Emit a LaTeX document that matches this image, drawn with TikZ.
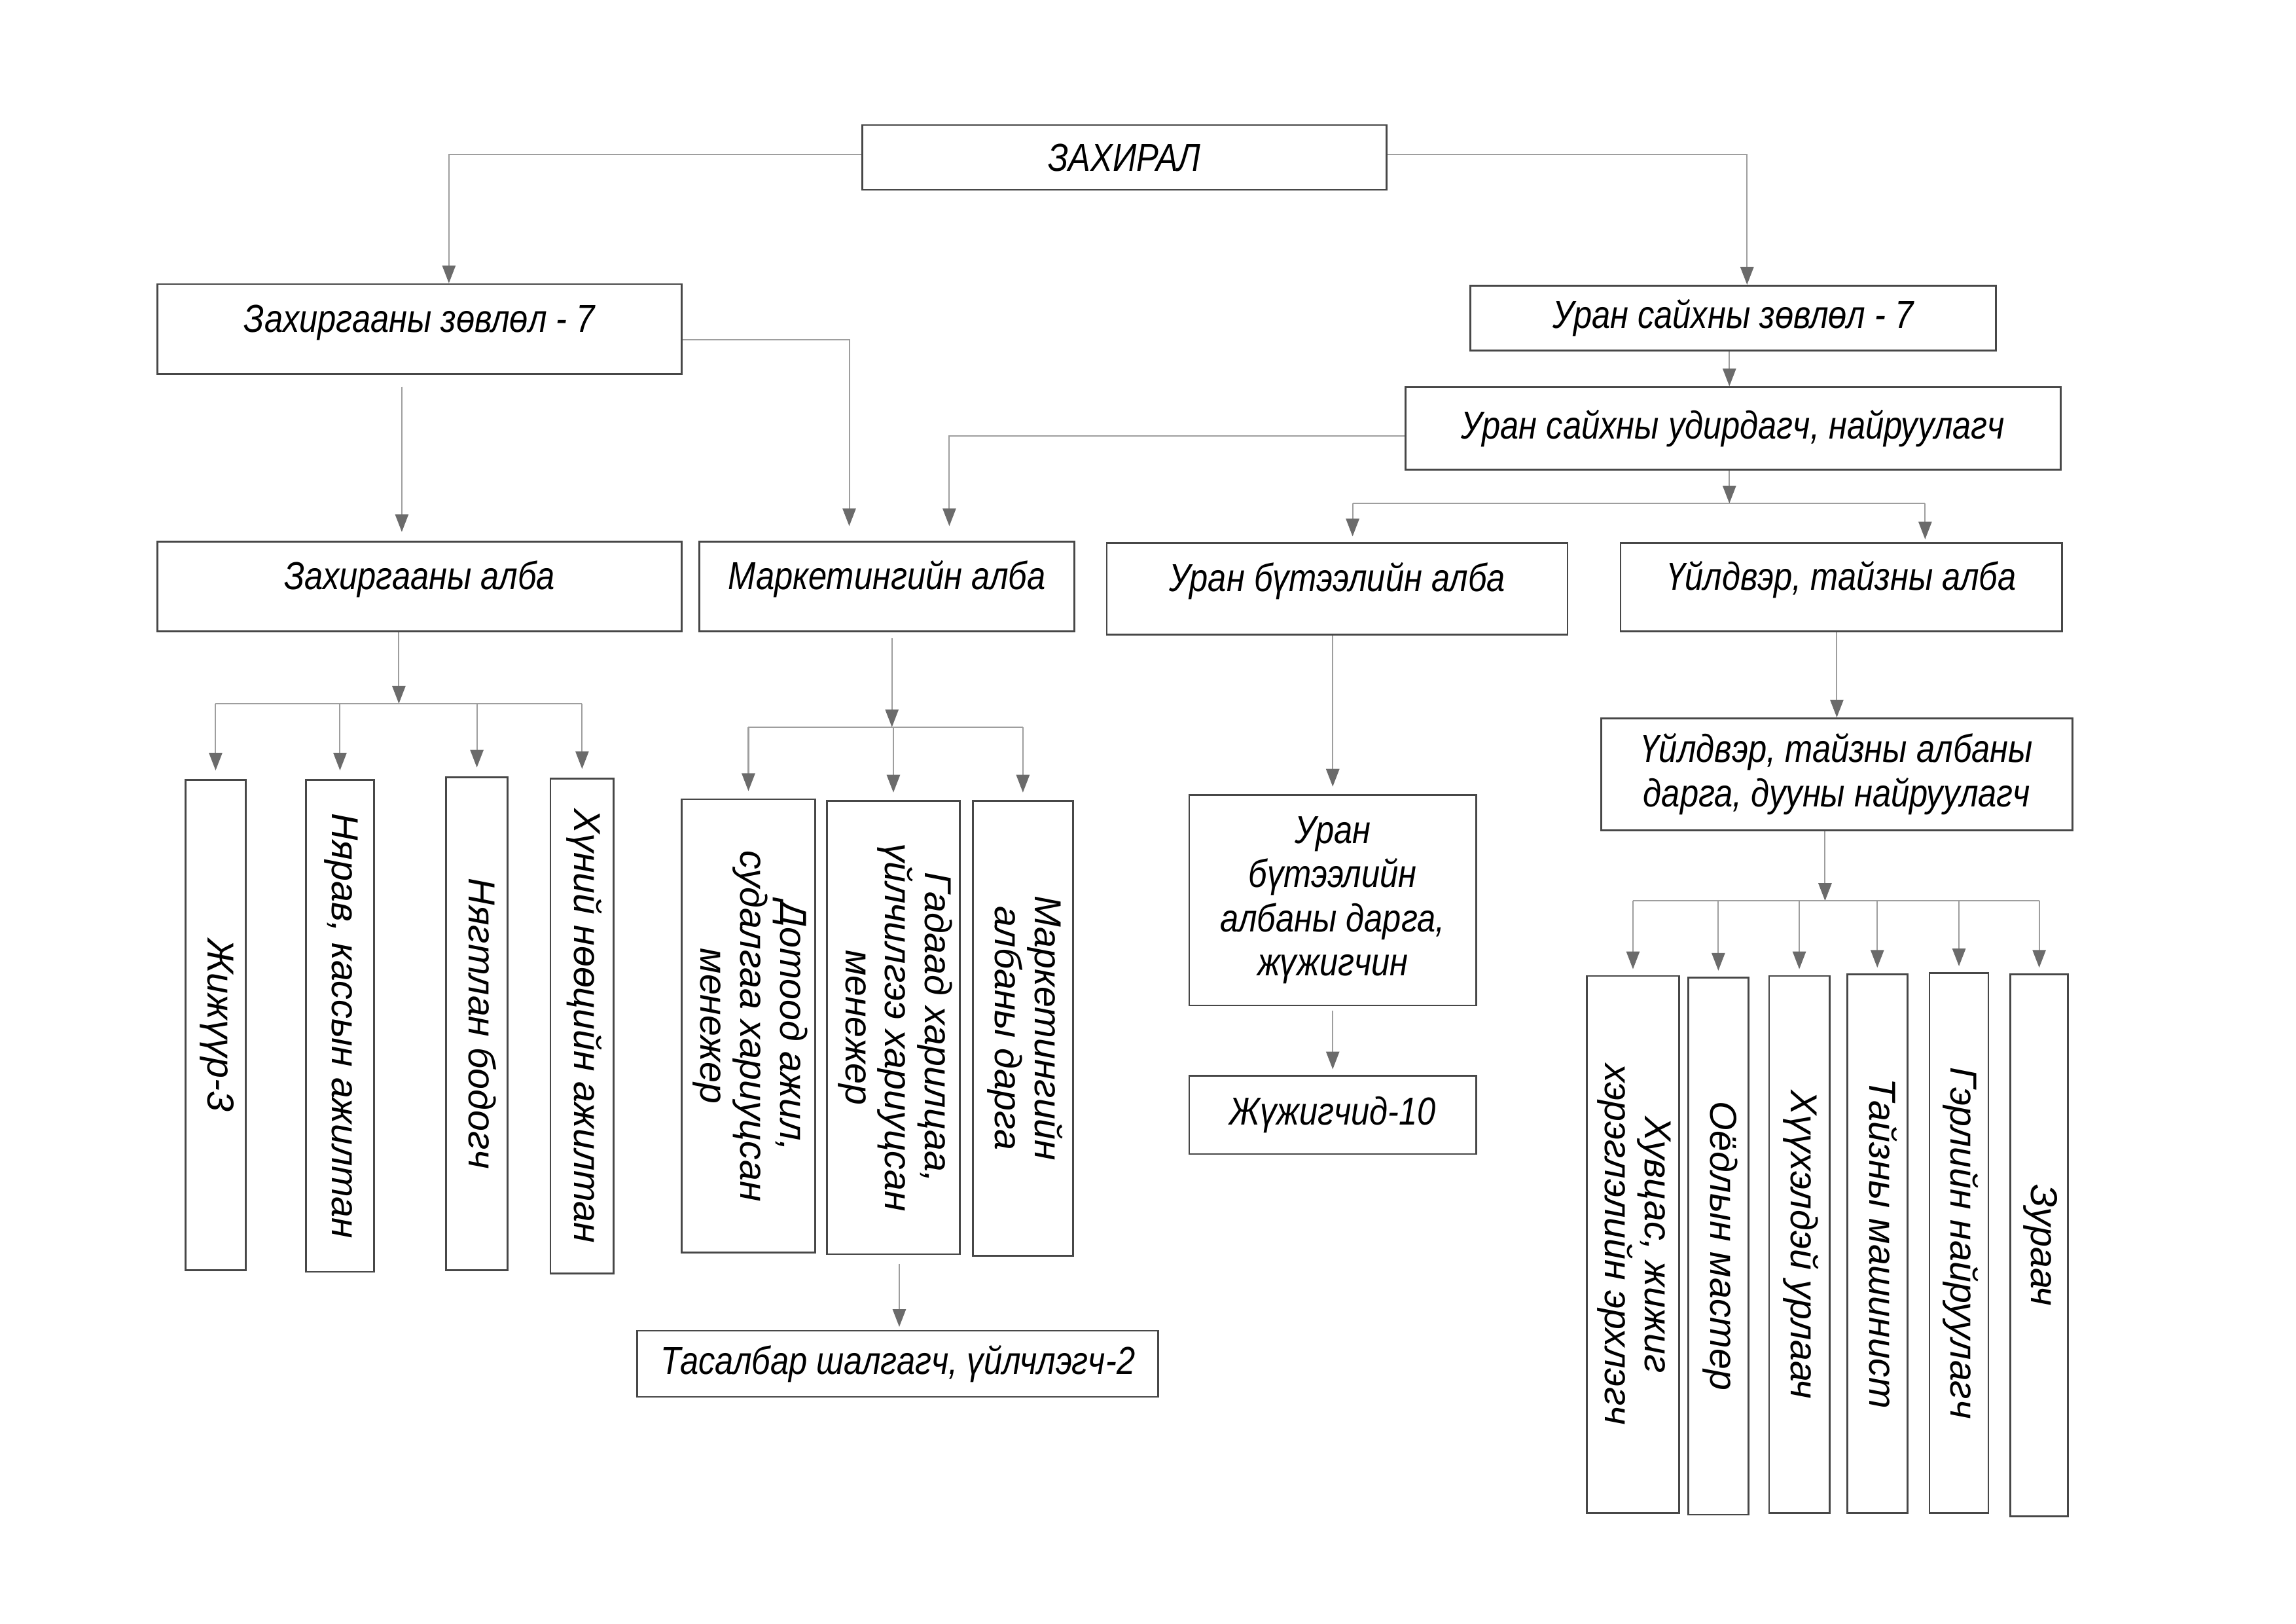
\documentclass[tikz,border=0pt]{standalone}
\usepackage{fontspec}
\usepackage{graphicx}
\setmainfont{Liberation Sans}
\newfontfamily\condit{Liberation Sans Italic}[FakeStretch=0.85]
\usetikzlibrary{arrows.meta}
\tikzset{
 box/.style={draw=black!72, line width=1.2pt, fill=white, inner sep=0pt, align=center, font=\condit\fontsize{26.5}{30}\selectfont},
 vbox/.style={draw=black!72, line width=1.2pt, fill=white, inner sep=0pt, font=\itshape\fontsize{25.5}{27}\selectfont},
 sz/.style 2 args={minimum width=#1pt, minimum height=#2pt},
 conn/.style={draw=black!38, line width=0.9pt},
 arr/.style={conn, -{Triangle[length=12pt,width=9pt,color=black!58]}},
 up/.style={text height=19pt, text depth=15pt},
}
\newcommand\vtext[1]{\rotatebox{-90}{\begin{tabular}{@{}c@{}}#1\end{tabular}}}
\begin{document}
\begin{tikzpicture}[x=1pt,y=-1pt]
\fill[white] (0,0) rectangle (1560,1102.9);
\useasboundingbox (0,0) rectangle (1560,1102.9);

% top levels
\node[box, sz={356}{44}] (dir) at (764,107) {ЗАХИРАЛ};
\node[box, sz={356}{61}, up] (zz) at (285,223.5) {Захиргааны зөвлөл - 7};
\node[box, sz={357}{44}] (uz) at (1177.5,216) {Уран сайхны зөвлөл - 7};
\node[box, sz={445}{56}] (ud) at (1177.5,291) {Уран сайхны удирдагч, найруулагч};

% departments
\node[box, sz={356}{61}, up] (za) at (285,398.5) {Захиргааны алба};
\node[box, sz={255}{61}, up] (ma) at (602.5,398.5) {Маркетингийн алба};
\node[box, sz={313}{62}, up] (ub) at (908.5,400) {Уран бүтээлийн алба};
\node[box, sz={300}{60}, up] (ua) at (1251,399) {Үйлдвэр, тайзны алба};

% administration staff
\node[vbox, sz={41}{333}] (v1) at (146.5,696.5) {\vtext{Жижүүр-3}};
\node[vbox, sz={46}{334}] (v2) at (231,697) {\vtext{Нярав, кассын ажилтан}};
\node[vbox, sz={42}{335}] (v3) at (324,695.5) {\vtext{Нягтлан бодогч}};
\node[vbox, sz={43}{336}] (v4) at (395.5,697) {\vtext{Хүний нөөцийн ажилтан}};

% marketing staff
\node[vbox, sz={91}{308}] (m1) at (508.5,697) {\vtext{Дотоод ажил,\\судалгаа хариуцсан\\менежер}};
\node[vbox, sz={90}{308}] (m2) at (607,698) {\vtext{Гадаад харилцаа,\\үйлчилгээ хариуцсан\\менежер}};
\node[vbox, sz={68}{309}] (m3) at (695,698.5) {\vtext{Маркетингийн\\албаны дарга}};
\node[box, sz={354}{45}] (ts) at (610,926.5) {Тасалбар шалгагч, үйлчлэгч-2};

% art production
\node[box, sz={195}{143}] (bd) at (905.5,611.5) {Уран\\бүтээлийн\\албаны дарга,\\жүжигчин};
\node[box, sz={195}{53}] (jj) at (905.5,757.5) {Жүжигчид-10};

% stage production
\node[box, sz={320}{76}] (ud2) at (1248,526) {Үйлдвэр, тайзны албаны\\дарга, дууны найруулагч};
\node[vbox, sz={63}{365}] (r1) at (1109.5,845.5) {\vtext{Хувцас, жижиг\\хэрэглэлийн эрхлэгч}};
\node[vbox, sz={41}{365}] (r2) at (1167.5,846.5) {\vtext{Оёдлын мастер}};
\node[vbox, sz={41}{365}] (r3) at (1222.5,845.5) {\vtext{Хүүхэлдэй урлаач}};
\node[vbox, sz={41}{366}] (r4) at (1275.5,845) {\vtext{Тайзны машинист}};
\node[vbox, sz={40}{367}] (r5) at (1331,844.5) {\vtext{Гэрлийн найруулагч}};
\node[vbox, sz={39}{368}] (r6) at (1385.5,846) {\vtext{Зураач}};

% helper coordinates
\coordinate (zzT) at ([xshift=20pt]zz.north);
\coordinate (uzT) at ([xshift=9.5pt]uz.north);
\coordinate (dirW) at ([yshift=2pt]dir.west);
\coordinate (dirE) at ([yshift=2pt]dir.east);
\coordinate (zzB) at ([xshift=-12pt,yshift=-8pt]zz.south);
\coordinate (zaT) at ([xshift=-12pt]za.north);
\coordinate (zzE) at ([yshift=-7.5pt]zz.east);
\coordinate (maT1) at ([xshift=-25.5pt]ma.north);
\coordinate (udW) at ([yshift=-5pt]ud.west);
\coordinate (maT2) at ([xshift=42.5pt]ma.north);
\coordinate (uzB) at ([xshift=-2.5pt]uz.south);
\coordinate (udT) at ([xshift=-2.5pt]ud.north);
\coordinate (udB) at ([xshift=-2.5pt]ud.south);
\coordinate (b1) at (1175,342);
\coordinate (ubT) at ([xshift=10.5pt]ub.north);
\coordinate (uaT) at ([xshift=57pt]ua.north);
\coordinate (zaB) at ([xshift=-14pt]za.south);
\coordinate (b2) at (271,478);
\coordinate (maB) at ([xshift=3.5pt,yshift=-4pt]ma.south);
\coordinate (b3) at (606,494);
\coordinate (m2B) at ([xshift=4pt,yshift=-6pt]m2.south);
\coordinate (tsT) at ([xshift=1pt]ts.north);
\coordinate (ud2B) at ([xshift=-8pt]ud2.south);
\coordinate (b4) at (1240,612);

% connectors
\draw[arr] (dirW) -| (zzT);
\draw[arr] (dirE) -| (uzT);
\draw[arr, shorten >=6pt] (zzB) -- (zaT);
\draw[arr, shorten >=10pt] (zzE) -| (maT1);
\draw[arr, shorten >=10pt] (udW) -| (maT2);
\draw[arr] (uzB) -- (udT);
\draw[arr] (udB) -- (b1);
\draw[conn] (ubT |- b1) -- (uaT |- b1);
\draw[arr, shorten >=4pt] (ubT |- b1) -- (ubT);
\draw[arr, shorten >=2pt] (uaT |- b1) -- (uaT);

\draw[arr] (zaB) -- (b2);
\draw[conn] (v1.north |- b2) -- (v4.north |- b2);
\foreach \v in {v1,v2,v3,v4} \draw[arr, shorten >=6pt] (\v.north |- b2) -- (\v.north);

\draw[arr] (maB) -- (b3);
\draw[conn] (m1.north |- b3) -- (m3.north |- b3);
\foreach \v in {m1,m2,m3} \draw[arr, shorten >=5pt] (\v.north |- b3) -- (\v.north);
\draw[arr, shorten >=2pt] (m2B) -- (tsT);

\draw[arr, shorten >=5pt] (bd.north |- ub.south) -- (bd.north);
\draw[arr, shorten >=4pt] ([yshift=-3pt]bd.south) -- (jj.north);

\draw[arr] (ud2.north |- ua.south) -- (ud2.north);
\draw[arr] (ud2B) -- (b4);
\draw[conn] (r1.north |- b4) -- (r6.north |- b4);
\foreach \v in {r1,r2,r3,r4,r5,r6} \draw[arr, shorten >=4pt] (\v.north |- b4) -- (\v.north);
\end{tikzpicture}
\end{document}
